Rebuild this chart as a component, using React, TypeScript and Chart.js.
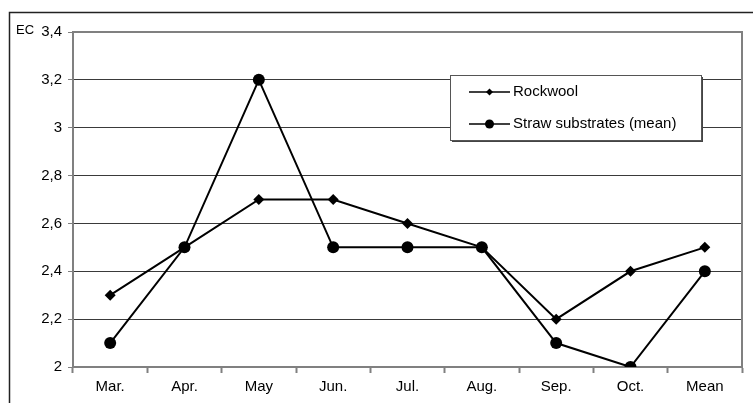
import React, { useEffect, useRef } from "react";
import { Chart, registerables } from "chart.js";

Chart.register(...registerables);

const categories = ["Mar.", "Apr.", "May", "Jun.", "Jul.", "Aug.", "Sep.", "Oct.", "Mean"];
const rockwool = [2.3, 2.5, 2.7, 2.7, 2.6, 2.5, 2.2, 2.4, 2.5];
const straw = [2.1, 2.5, 3.2, 2.5, 2.5, 2.5, 2.1, 2.0, 2.4];
const seriesNames = ["Rockwool", "Straw substrates (mean)"];
const yMin = 2;
const yMax = 3.4;
const yStep = 0.2;
const yAxisTitle = "EC";

const FONT = "'Liberation Sans', Arial, sans-serif";

const framePlugin = {
  id: "frame",
  afterDraw(chart: any) {
    const { ctx, chartArea } = chart;
    const { left, top, right, bottom } = chartArea;
    ctx.save();
    // outer frame (top & left)
    ctx.strokeStyle = "#222";
    ctx.lineWidth = 1.5;
    ctx.beginPath();
    ctx.moveTo(753, 12.5);
    ctx.lineTo(9.5, 12.5);
    ctx.lineTo(9.5, 403);
    ctx.stroke();
    // plot top & right borders
    ctx.strokeStyle = "#808080";
    ctx.lineWidth = 2;
    ctx.beginPath();
    ctx.moveTo(left, top);
    ctx.lineTo(right, top);
    ctx.lineTo(right, bottom);
    ctx.stroke();
    // EC label
    ctx.fillStyle = "#000";
    ctx.font = `13px ${FONT}`;
    ctx.textAlign = "left";
    ctx.textBaseline = "alphabetic";
    ctx.fillText(yAxisTitle, 16, 34);
    // legend
    const lx = 450, ly = 75, lw = 251, lh = 65;
    ctx.fillStyle = "#fff";
    ctx.fillRect(lx, ly, lw, lh);
    ctx.fillStyle = "#444";
    ctx.fillRect(lx + 2, ly + lh, lw, 2);
    ctx.fillRect(lx + lw, ly + 2, 2, lh);
    ctx.strokeStyle = "#555";
    ctx.lineWidth = 1;
    ctx.strokeRect(lx + 0.5, ly + 0.5, lw, lh);
    const rows = [ly + 17, ly + 49];
    chart.data.datasets.forEach((ds: any, i: number) => {
      const y = rows[i];
      ctx.strokeStyle = "#000";
      ctx.lineWidth = 1.5;
      ctx.beginPath();
      ctx.moveTo(lx + 19, y);
      ctx.lineTo(lx + 60, y);
      ctx.stroke();
      ctx.fillStyle = "#000";
      if (ds.pointStyle === "rectRot") {
        const r = 3.5;
        ctx.beginPath();
        ctx.moveTo(lx + 39.5, y - r);
        ctx.lineTo(lx + 39.5 + r, y);
        ctx.lineTo(lx + 39.5, y + r);
        ctx.lineTo(lx + 39.5 - r, y);
        ctx.closePath();
        ctx.fill();
      } else {
        ctx.beginPath();
        ctx.arc(lx + 39.5, y, 4.5, 0, Math.PI * 2);
        ctx.fill();
      }
      ctx.font = `15px ${FONT}`;
      ctx.textBaseline = "middle";
      ctx.fillText(ds.label, lx + 63, y);
    });
    ctx.restore();
  },
};

export default function App() {
  const ref = useRef<HTMLCanvasElement>(null);
  useEffect(() => {
    if (!ref.current) return;
    const chart = new Chart(ref.current, {
      type: "line",
      data: {
        labels: categories,
        datasets: [
          {
            label: seriesNames[0],
            data: rockwool,
            borderColor: "#000",
            backgroundColor: "#000",
            borderWidth: 2,
            pointStyle: "rectRot",
            pointRadius: 5.5,
            pointBorderWidth: 0,
          },
          {
            label: seriesNames[1],
            data: straw,
            borderColor: "#000",
            backgroundColor: "#000",
            borderWidth: 2,
            pointStyle: "circle",
            pointRadius: 6,
            pointBorderWidth: 0,
          },
        ],
      },
      options: {
        responsive: false,
        animation: false,
        layout: { padding: { top: 32, right: 11, left: 0, bottom: 0 } },
        plugins: { legend: { display: false }, tooltip: { enabled: false } },
        scales: {
          x: {
            offset: true,
            grid: {
              offset: true,
              drawOnChartArea: false,
              tickLength: 6,
              tickColor: "#808080",
              tickWidth: 2,
            },
            border: { color: "#808080", width: 2 },
            ticks: {
              color: "#000",
              font: { family: FONT, size: 15 },
              padding: 5,
            },
            afterFit(s: any) {
              s.height = 36;
            },
          },
          y: {
            min: yMin,
            max: yMax,
            ticks: {
              stepSize: yStep,
              color: "#000",
              font: { family: FONT, size: 15 },
              padding: 6,
              callback: (v: any) => String(Number(Number(v).toFixed(1))).replace(".", ","),
            },
            grid: {
              color: "#3a3a3a",
              lineWidth: 1,
              tickLength: 5,
              tickColor: "#808080",
            },
            border: { color: "#808080", width: 2 },
            afterFit(s: any) {
              s.width = 73;
            },
          },
        },
      },
      plugins: [framePlugin],
    });
    return () => chart.destroy();
  }, []);
  return (
    <div style={{ position: "fixed", left: 0, top: 0, width: 753, height: 403, background: "#fff" }}>
      <canvas ref={ref} width={753} height={403} style={{ width: 753, height: 403, display: "block" }} />
    </div>
  );
}
